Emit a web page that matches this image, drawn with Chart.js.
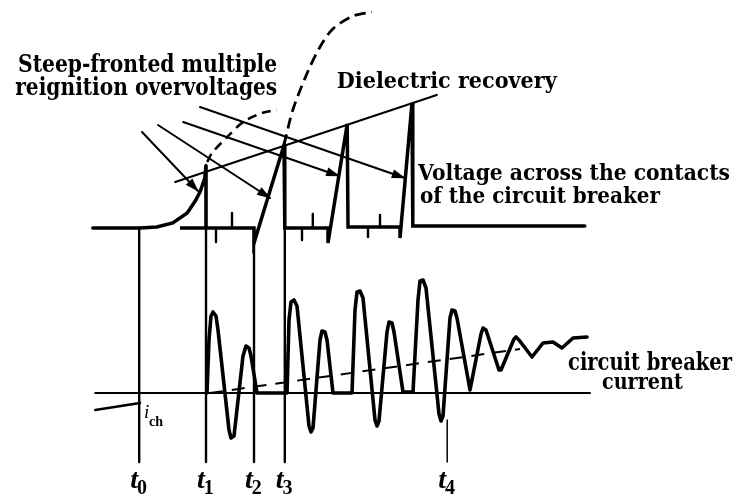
<!DOCTYPE html>
<html>
<head>
<meta charset="utf-8">
<script src="https://cdn.jsdelivr.net/npm/chart.js@4.4.0/dist/chart.umd.min.js"></script>
<style>
  html, body { margin: 0; background: #fff; }
  #wrap { width: 736px; height: 497px; }
</style>
</head>
<body>
<div id="wrap"><canvas id="chart"></canvas></div>
<script>
// time in arbitrary units, voltage / current in per-unit steps

// voltage across the contacts
const voltT = [11.6, 17.5, 19.6, 21.6, 23.4, 24.4, 25.0, 25.6, 25.75, 25.75, 22.5, 31.75, 31.75, 35.5, 35.6, 41.0, 41.0, 43.4, 43.5, 50.0, 50.0, 51.5, 51.6, 73.1];
const voltV = [0, 0, 0.1, 0.5, 1.5, 2.7, 3.6, 5.0, 6.3, 0, 0, 0, -1.5, 8.3, 0, 0, -1.5, 10.4, 0.1, 0.1, -1.0, 12.5, 0.2, 0.2];

// small ringing marks on the voltage trace (null = gap)
const ringT = [27.0, 27.0, 27.0, 29.0, 29.0, 29.0, 37.75, 37.75, 37.75, 39.1, 39.1, 39.1, 46.0, 46.0, 46.0, 47.5, 47.5];
const ringV = [0, -1.4, null, 0, 1.5, null, 0, -1.2, null, 0, 1.4, null, 0.1, -0.9, null, 0.1, 1.3];

// prospective recovery voltage (dashed)
const prosp1T = [25.9, 26.5, 28.4, 30.4, 32.75, 34.6];
const prosp1V = [6.6, 7.5, 9.1, 10.6, 11.5, 11.8];
const prosp2T = [35.5, 36.6, 38.4, 40.0, 41.6, 44.1, 46.5];
const prosp2V = [8.3, 11.8, 15.5, 18.1, 19.9, 21.2, 21.6];

// dielectric recovery of the gap
const dielT = [21.9, 54.6];
const dielV = [4.6, 13.3];

// circuit breaker current
const currT = [25.875, 26.125, 26.375, 26.625, 27.0, 27.25, 28.625, 28.875, 29.25, 30.375, 30.75, 31.125, 31.375, 32.125,
  35.875, 36.125, 36.375, 36.75, 37.125, 38.625, 38.875, 39.125, 40.0, 40.25, 40.625, 40.875, 41.625,
  44.0, 44.375, 44.625, 45.0, 45.375, 46.875, 47.125, 47.375, 48.375, 48.625, 49.0, 49.25, 50.375,
  51.625, 52.25, 52.5, 52.875, 53.25, 54.875, 55.125, 55.375, 56.25, 56.5, 56.875, 57.125, 58.75,
  60.125, 60.375, 60.75, 62.375, 62.625, 64.25, 64.5, 64.875, 66.5, 67.875, 69.125, 70.25, 71.625, 73.375];
const currI = [0, 5.3, 7.7, 8.1, 7.7, 6.3, -3.7, -4.5, -4.3, 3.7, 4.7, 4.5, 3.7, 0,
  0, 7.3, 9.1, 9.3, 8.7, -3.3, -3.9, -3.5, 5.3, 6.2, 6.1, 5.3, 0,
  0, 8.3, 10.1, 10.2, 9.5, -2.7, -3.3, -2.8, 6.1, 7.1, 7.0, 6.1, 0.1,
  0.1, 9.3, 11.2, 11.3, 10.5, -2.1, -2.8, -2.3, 7.5, 8.3, 8.2, 7.5, 0.3,
  5.9, 6.5, 6.3, 2.3, 2.3, 5.4, 5.6, 5.3, 3.6, 5.0, 5.1, 4.5, 5.5, 5.6];
const chopT = [11.9, 17.5];
const chopI = [-1.7, -1.0];
const zeroT = [11.9, 73.75];
const meanT = [26.25, 65.0];
const meanI = [0, 4.4];

// reignition instants t0..t4
const markerNames = ['0', '1', '2', '3', '4'];
const markerTimes = [17.4, 25.75, 31.75, 35.6, 55.9];
const markerTops = [0, 6.3, 0, 8.3, -19.2];
const markerBottom = -23.4;

// arrows from the overvoltage note to each reignition front
const arrowFromT = [17.75, 19.75, 22.9, 25.0];
const arrowFromV = [9.6, 10.3, 10.6, 12.1];
const arrowToT = [24.75, 33.75, 42.4, 50.6];
const arrowToV = [3.7, 3.0, 5.2, 5.0];

const NOTE_FONT = '"DejaVu Serif", serif';
const T_FONT = '"Liberation Serif", serif';

const pts = (ts, vs) => ts.map((t, k) => ({ x: t, y: vs[k] }));

const datasets = [];
const line = (data, axis, extra) => datasets.push(Object.assign({
  data: data,
  yAxisID: axis,
  showLine: true,
  borderColor: '#000',
  borderWidth: 2,
  pointRadius: 0,
  tension: 0,
  spanGaps: false,
  borderJoinStyle: 'round',
  borderCapStyle: 'round'
}, extra || {}));

line(pts(voltT, voltV), 'v', { borderWidth: 3.5, borderJoinStyle: 'miter' });
line(pts(ringT, ringV), 'v', { borderWidth: 2.4 });
line(pts(prosp1T, prosp1V), 'v', { borderWidth: 2.5, borderDash: [9, 6], tension: 0.3, borderCapStyle: 'butt' });
line(pts(prosp2T, prosp2V), 'v', { borderWidth: 2.8, borderDash: [11, 6], tension: 0.3, borderCapStyle: 'butt' });
line(pts(dielT, dielV), 'v', { borderWidth: 2.2 });
arrowFromT.forEach((t, k) => {
  line(pts([t, arrowToT[k]], [arrowFromV[k], arrowToV[k]]), 'v', { borderWidth: 2, arrow: true });
});
markerTimes.forEach((t, k) => {
  line(pts([t, t], [markerTops[k], markerBottom]), 'v', { borderWidth: k === 4 ? 1.5 : 2.4, borderCapStyle: 'butt' });
});
line(pts(zeroT, [0, 0]), 'i', { borderWidth: 2 });
line(pts(chopT, chopI), 'i', { borderWidth: 2.6 });
line(pts(meanT, meanI), 'i', { borderWidth: 2, borderDash: [13, 9], borderCapStyle: 'butt' });
line(pts(currT, currI), 'i', { borderWidth: 3.6, borderJoinStyle: 'round' });

// text labels: [text, time, voltage, width in time units, font size]
const notes = [
  ['Steep-fronted multiple', 2.25, 15.6, 32.4, 24],
  ['reignition overvoltages', 1.9, 13.3, 32.75, 24],
  ['Dielectric recovery', 42.1, 14.0, 27.5, 23],
  ['Voltage across the contacts', 52.25, 4.8, 39, 22],
  ['of the circuit breaker', 52.5, 2.5, 30, 22],
  ['circuit breaker', 71, -14.2, 20.5, 24],
  ['current', 75.25, -16.1, 10.1, 23]
];

const overlay = {
  id: 'overlay',
  afterDatasetsDraw(chart) {
    const ctx = chart.ctx;
    const xs = chart.scales.x, vs = chart.scales.v;

    // arrow heads
    chart.data.datasets.forEach((ds, n) => {
      if (!ds.arrow) return;
      const p = chart.getDatasetMeta(n).data;
      const a = p[0], b = p[p.length - 1];
      const ang = Math.atan2(b.y - a.y, b.x - a.x);
      ctx.save();
      ctx.translate(b.x, b.y);
      ctx.rotate(ang);
      ctx.beginPath();
      ctx.moveTo(1, 0);
      ctx.lineTo(-13, -4.5);
      ctx.lineTo(-13, 4.5);
      ctx.closePath();
      ctx.fillStyle = '#000';
      ctx.fill();
      ctx.restore();
    });

    ctx.save();
    ctx.fillStyle = '#000';
    ctx.textBaseline = 'alphabetic';
    notes.forEach(([txt, t, v, w, size]) => {
      const x0 = xs.getPixelForValue(t);
      const y0 = vs.getPixelForValue(v);
      const target = xs.getPixelForValue(t + w) - x0;
      ctx.font = 'bold ' + size + 'px ' + NOTE_FONT;
      const k = target / ctx.measureText(txt).width;
      ctx.save();
      ctx.translate(x0, y0);
      ctx.scale(k, 1);
      ctx.fillText(txt, 0, 0);
      ctx.restore();
    });

    // t0..t4 under the marker lines
    const labelV = -26.0;
    markerTimes.forEach((t, k) => {
      const x0 = xs.getPixelForValue(t) - 9;
      const y0 = vs.getPixelForValue(labelV);
      ctx.font = 'italic bold 28px ' + T_FONT;
      ctx.fillText('t', x0, y0);
      const tw = ctx.measureText('t').width;
      ctx.font = 'bold 20px ' + T_FONT;
      ctx.fillText(markerNames[k], x0 + tw - 1, y0 + 6);
    });

    // chopping current i_ch
    const cx = xs.getPixelForValue(18.0), cy = vs.getPixelForValue(-19.0);
    ctx.font = 'italic 19px ' + T_FONT;
    ctx.fillText('i', cx, cy);
    ctx.font = 'bold 14px ' + T_FONT;
    ctx.fillText('ch', cx + 5, cy + 8);
    ctx.restore();
  }
};

function build() {
  new Chart(document.getElementById('chart'), {
    type: 'scatter',
    data: { datasets: datasets },
    options: {
      responsive: true,
      maintainAspectRatio: false,
      animation: false,
      events: [],
      layout: { padding: 0 },
      plugins: { legend: { display: false }, tooltip: { enabled: false } },
      scales: {
        x: { type: 'linear', min: 0, max: 92, display: false },
        v: { type: 'linear', position: 'left', min: -26.9, max: 22.8, display: false },
        i: { type: 'linear', position: 'right', min: -10.4, max: 39.3, display: false }
      }
    },
    plugins: [overlay]
  });
}

// make sure the serif faces are ready before the canvas is painted
Promise.all([
  document.fonts.load('bold 24px ' + NOTE_FONT),
  document.fonts.load('italic bold 28px ' + T_FONT),
  document.fonts.load('bold 20px ' + T_FONT),
  document.fonts.load('italic 19px ' + T_FONT)
]).catch(() => {}).then(build);
</script>
</body>
</html>
